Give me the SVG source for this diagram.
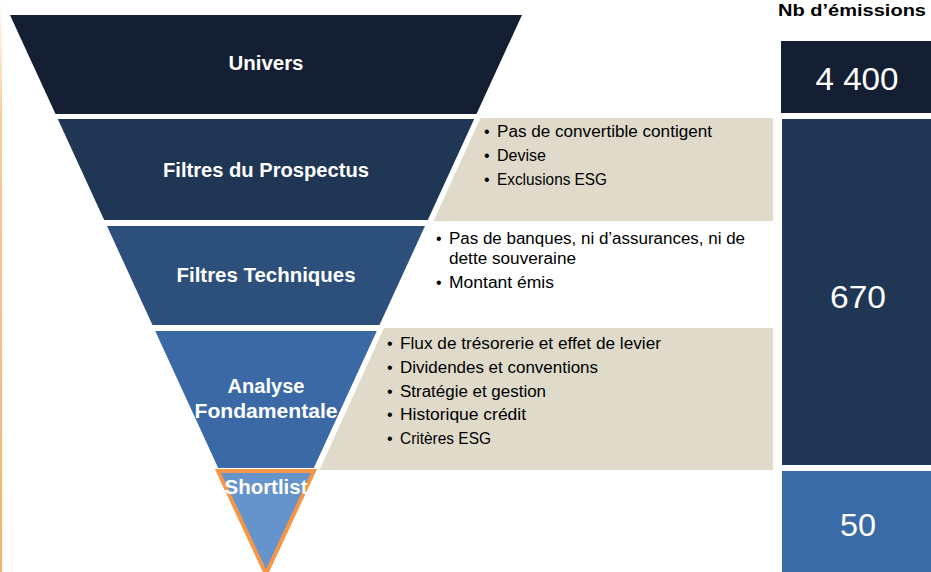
<svg xmlns="http://www.w3.org/2000/svg" width="931" height="572" viewBox="0 0 931 572">
<defs>
<linearGradient id="edge" x1="0" y1="0" x2="0" y2="1">
<stop offset="0" stop-color="#F9A75A" stop-opacity="0"/>
<stop offset="0.2" stop-color="#F9A75A" stop-opacity="0.6"/>
<stop offset="1" stop-color="#F9A75A" stop-opacity="0.9"/>
</linearGradient>
</defs>
<style>
.lbl{font-family:"Liberation Sans",Arial,sans-serif;font-weight:bold;font-size:20px;fill:#FFFFFF;text-anchor:middle}
.num{font-family:"Liberation Sans",Arial,sans-serif;font-size:32px;fill:#FFFFFF;text-anchor:middle}
.bul{font-family:"Liberation Sans",Arial,sans-serif;font-size:16px;fill:#000000}
.hdr{font-family:"Liberation Sans",Arial,sans-serif;font-weight:bold;font-size:17px;fill:#000000}
.beige{fill:#DFDACA}
</style>
<rect x="0" y="0" width="931" height="572" fill="#FFFFFF"/>
<rect x="0" y="0" width="2" height="572" fill="url(#edge)"/>

<text class="hdr" x="778" y="16" textLength="148" lengthAdjust="spacingAndGlyphs">Nb d’émissions</text>

<g id="univers">
<polygon points="10,15 522,15 476.5,114 55.5,114" fill="#141F33"/>
<text class="lbl" x="266" y="70" textLength="75" lengthAdjust="spacingAndGlyphs">Univers</text>
</g>

<g id="filtres-prospectus">
<polygon points="57.8,119 474.2,119 427.8,220 104.2,220" fill="#1F3655"/>
<text class="lbl" x="266" y="177" textLength="206" lengthAdjust="spacingAndGlyphs">Filtres du Prospectus</text>
</g>

<g id="prospectus-criteria">
<polygon class="beige" points="480.5,118 773,118 773,221 433.5,221"/>
<text class="bul" x="484" y="137">•</text>
<text class="bul" x="497" y="137" textLength="215" lengthAdjust="spacingAndGlyphs">Pas de convertible contigent</text>
<text class="bul" x="484" y="161">•</text>
<text class="bul" x="497" y="161" textLength="49" lengthAdjust="spacingAndGlyphs">Devise</text>
<text class="bul" x="484" y="185">•</text>
<text class="bul" x="497" y="185" textLength="110" lengthAdjust="spacingAndGlyphs">Exclusions ESG</text>
</g>

<g id="filtres-techniques">
<polygon points="107,226 425,226 379.5,325 152.5,325" fill="#2C4F7C"/>
<text class="lbl" x="266" y="282" textLength="179" lengthAdjust="spacingAndGlyphs">Filtres Techniques</text>
</g>

<g id="techniques-criteria">
<text class="bul" x="436" y="244">•</text>
<text class="bul" x="449" y="244" textLength="296" lengthAdjust="spacingAndGlyphs">Pas de banques, ni d’assurances, ni de</text>
<text class="bul" x="449" y="264" textLength="127" lengthAdjust="spacingAndGlyphs">dette souveraine</text>
<text class="bul" x="436" y="288">•</text>
<text class="bul" x="449" y="288" textLength="105" lengthAdjust="spacingAndGlyphs">Montant émis</text>
</g>

<g id="analyse-fondamentale">
<polygon points="155.2,331 376.8,331 313.8,468 218.2,468" fill="#3A69A5"/>
<text class="lbl" x="266" y="393" textLength="77" lengthAdjust="spacingAndGlyphs">Analyse</text>
<text class="lbl" x="266" y="418" textLength="143" lengthAdjust="spacingAndGlyphs">Fondamentale</text>
</g>

<g id="fondamentale-criteria">
<polygon class="beige" points="384,328 773,328 773,470 319.5,470"/>
<text class="bul" x="387" y="349">•</text>
<text class="bul" x="400" y="349" textLength="261" lengthAdjust="spacingAndGlyphs">Flux de trésorerie et effet de levier</text>
<text class="bul" x="387" y="373">•</text>
<text class="bul" x="400" y="373" textLength="198" lengthAdjust="spacingAndGlyphs">Dividendes et conventions</text>
<text class="bul" x="387" y="397">•</text>
<text class="bul" x="400" y="397" textLength="146" lengthAdjust="spacingAndGlyphs">Stratégie et gestion</text>
<text class="bul" x="387" y="420">•</text>
<text class="bul" x="400" y="420" textLength="126" lengthAdjust="spacingAndGlyphs">Historique crédit</text>
<text class="bul" x="387" y="444">•</text>
<text class="bul" x="400" y="444" textLength="91" lengthAdjust="spacingAndGlyphs">Critères ESG</text>
</g>

<g id="shortlist">
<polygon points="218,471 314,471 266,574" fill="#6593CB" stroke="#F79646" stroke-width="4" stroke-linejoin="miter"/>
<text class="lbl" x="266" y="494" textLength="83" lengthAdjust="spacingAndGlyphs">Shortlist</text>
</g>

<g id="count-univers">
<rect x="781" y="41" width="150" height="72" fill="#141F33"/>
<text class="num" x="857" y="90" textLength="83" lengthAdjust="spacingAndGlyphs">4 400</text>
</g>

<g id="count-filtres">
<rect x="782" y="119" width="149" height="346" fill="#1F3655"/>
<text class="num" x="858" y="308" textLength="56" lengthAdjust="spacingAndGlyphs">670</text>
</g>

<g id="count-shortlist">
<rect x="782" y="471" width="149" height="101" fill="#3A6BA6"/>
<text class="num" x="858" y="536" textLength="36" lengthAdjust="spacingAndGlyphs">50</text>
</g>
</svg>
